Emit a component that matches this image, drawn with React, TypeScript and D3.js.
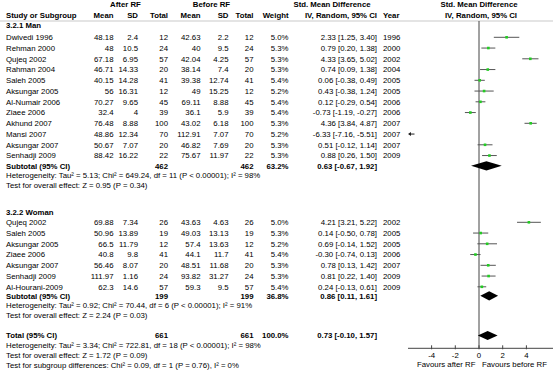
import React from "react";
import * as d3 from "d3";

// ---------- data ----------
const manStudy = ["Dwivedi 1996", "Rehman 2000", "Qujeq 2002", "Rahman 2004", "Saleh 2005", "Aksungar 2005", "Al-Numair 2006", "Ziaee 2006", "Akhund 2007", "Mansi 2007", "Aksungar 2007", "Senhadji 2009"];
const manAfterMean = [48.18, 48, 67.18, 46.71, 40.15, 56, 70.27, 32.4, 76.48, 48.86, 50.67, 88.42];
const manAfterSD = [2.4, 10.5, 6.95, 14.33, 14.28, 16.31, 9.65, 4, 8.88, 12.34, 7.07, 16.22];
const manAfterN = [12, 24, 57, 20, 41, 12, 45, 39, 100, 70, 20, 22];
const manBeforeMean = [42.63, 40, 42.04, 38.14, 39.38, 49, 69.11, 36.1, 43.02, 112.91, 46.82, 75.67];
const manBeforeSD = [2.2, 9.5, 4.25, 7.4, 12.74, 15.25, 8.88, 5.9, 6.18, 7.07, 7.69, 11.97];
const manBeforeN = [12, 24, 57, 20, 41, 12, 45, 39, 100, 70, 20, 22];
const manWeight = [5.0, 5.3, 5.3, 5.3, 5.4, 5.2, 5.4, 5.4, 5.3, 5.2, 5.3, 5.3];
const manSMD = [2.33, 0.79, 4.33, 0.74, 0.06, 0.43, 0.12, -0.73, 4.36, -6.33, 0.51, 0.88];
const manLo = [1.25, 0.2, 3.65, 0.09, -0.38, -0.38, -0.29, -1.19, 3.84, -7.16, -0.12, 0.26];
const manHi = [3.4, 1.38, 5.02, 1.38, 0.49, 1.24, 0.54, -0.27, 4.87, -5.51, 1.14, 1.5];
const manYear = [1996, 2000, 2002, 2004, 2005, 2005, 2006, 2006, 2007, 2007, 2007, 2009];

const womanStudy = ["Qujeq 2002", "Saleh 2005", "Aksungar 2005", "Ziaee 2006", "Aksungar 2007", "Senhadji 2009", "Al-Hourani-2009"];
const womanAfterMean = [69.88, 50.96, 66.5, 40.8, 56.46, 111.97, 62.3];
const womanAfterSD = [7.34, 13.89, 11.79, 9.8, 8.07, 1.16, 14.6];
const womanAfterN = [26, 19, 12, 41, 20, 24, 57];
const womanBeforeMean = [43.63, 49.03, 57.4, 44.1, 48.51, 93.82, 59.3];
const womanBeforeSD = [4.63, 13.13, 13.63, 11.7, 11.68, 31.27, 9.5];
const womanBeforeN = [26, 19, 12, 41, 20, 24, 57];
const womanWeight = [5.0, 5.3, 5.2, 5.4, 5.3, 5.3, 5.4];
const womanSMD = [4.21, 0.14, 0.69, -0.3, 0.78, 0.81, 0.24];
const womanLo = [3.21, -0.5, -0.14, -0.74, 0.13, 0.22, -0.13];
const womanHi = [5.22, 0.78, 1.52, 0.13, 1.42, 1.4, 0.61];
const womanYear = [2002, 2005, 2005, 2006, 2007, 2009, 2009];

const groupNames = ["3.2.1 Man", "3.2.2 Woman"];
const subtotalAfterN = [462, 199];
const subtotalBeforeN = [462, 199];
const subtotalWeight = [63.2, 36.8];
const subtotalEst = [0.63, 0.86];
const subtotalLo = [-0.67, 0.11];
const subtotalHi = [1.92, 1.61];
const subtotalHet = [
  "Heterogeneity: Tau\u00b2 = 5.13; Chi\u00b2 = 649.24, df = 11 (P < 0.00001); I\u00b2 = 98%",
  "Heterogeneity: Tau\u00b2 = 0.92; Chi\u00b2 = 70.44, df = 6 (P < 0.00001); I\u00b2 = 91%",
];
const subtotalTest = ["Test for overall effect: Z = 0.95 (P = 0.34)", "Test for overall effect: Z = 2.24 (P = 0.03)"];

const totalAfterN = 661;
const totalBeforeN = 661;
const totalWeight = 100.0;
const totalEst = 0.73;
const totalLo = -0.1;
const totalHi = 1.57;
const totalNotes = [
  "Heterogeneity: Tau\u00b2 = 3.34; Chi\u00b2 = 722.81, df = 18 (P < 0.00001); I\u00b2 = 98%",
  "Test for overall effect: Z = 1.72 (P = 0.09)",
  "Test for subgroup differences: Chi\u00b2 = 0.09, df = 1 (P = 0.76), I\u00b2 = 0%",
];

const axisTicks = [-4, -2, 0, 2, 4];
const axisDomain = [-5.5, 5.5];
const favoursLeft = "Favours after RF";
const favoursRight = "Favours before RF";

// ---------- layout ----------
const W = 553;
const H = 378;
const FONT = "'Liberation Sans', Arial, sans-serif";
const FS = 7.8;

const col = {
  name: 6,
  aMean: 113.5,
  aSD: 138,
  aN: 168,
  bMean: 200.5,
  bSD: 228.5,
  bN: 253.5,
  weight: 288.5,
  ci: 377,
  year: 383,
};

const fmtCI = (e: number, l: number, h: number) => `${e.toFixed(2)} [${l.toFixed(2)}, ${h.toFixed(2)}]`;

export default function App() {
  const x = d3.scaleLinear().domain(axisDomain).range([479 - 5.5 * 11.85, 479 + 5.5 * 11.85]);
  const rowStep = 10.75;
  const manY = manStudy.map((_, i) => 37.3 + i * rowStep);
  const womanY = womanStudy.map((_, i) => 222.3 + i * rowStep);
  const groupHeaderY = [25.5, 212];
  const subY = [165.8, 295.8];
  const hetY = [175.5, 305.2];
  const testY = [185.5, 315.2];
  const totalY = 335.5;
  const totalNoteY = [345.3, 355.2, 365.2];
  const axisY = 348.3;
  const topLine = 21;
  const axisLeft = 408;

  const groups = [
    { study: manStudy, am: manAfterMean, asd: manAfterSD, an: manAfterN, bm: manBeforeMean, bsd: manBeforeSD, bn: manBeforeN, w: manWeight, e: manSMD, lo: manLo, hi: manHi, yr: manYear, ys: manY },
    { study: womanStudy, am: womanAfterMean, asd: womanAfterSD, an: womanAfterN, bm: womanBeforeMean, bsd: womanBeforeSD, bn: womanBeforeN, w: womanWeight, e: womanSMD, lo: womanLo, hi: womanHi, yr: womanYear, ys: womanY },
  ];

  const T = (props: any) => (
    <text fontFamily={FONT} fontSize={FS} dy="0.35em" fill="#000" {...props} />
  );

  const diamond = (e: number, l: number, h: number, y: number) => {
    const hh = 4.6;
    const pts = [[x(l), y], [x(e), y - hh], [x(h), y], [x(e), y + hh]];
    return <polygon points={pts.map((p) => p.join(",")).join(" ")} fill="#000" />;
  };

  return (
    <svg width={W} height={H} style={{ position: "absolute", left: 0, top: 0, background: "#fff" }}>
      <rect x={0} y={0} width={W} height={H} fill="#fff" />
      {/* headers */}
      <T x={125.5} y={4.5} textAnchor="middle" fontWeight="bold">After RF</T>
      <T x={211.5} y={4.5} textAnchor="middle" fontWeight="bold">Before RF</T>
      <T x={332} y={4.5} textAnchor="middle" fontWeight="bold">Std. Mean Difference</T>
      <T x={479} y={4.5} textAnchor="middle" fontWeight="bold">Std. Mean Difference</T>
      <T x={col.name} y={15.5} fontWeight="bold">Study or Subgroup</T>
      <T x={col.aMean} y={15.5} textAnchor="end" fontWeight="bold">Mean</T>
      <T x={col.aSD} y={15.5} textAnchor="end" fontWeight="bold">SD</T>
      <T x={col.aN} y={15.5} textAnchor="end" fontWeight="bold">Total</T>
      <T x={col.bMean} y={15.5} textAnchor="end" fontWeight="bold">Mean</T>
      <T x={col.bSD} y={15.5} textAnchor="end" fontWeight="bold">SD</T>
      <T x={col.bN} y={15.5} textAnchor="end" fontWeight="bold">Total</T>
      <T x={col.weight} y={15.5} textAnchor="end" fontWeight="bold">Weight</T>
      <T x={col.ci} y={15.5} textAnchor="end" fontWeight="bold">IV, Random, 95% CI</T>
      <T x={col.year} y={15.5} fontWeight="bold">Year</T>
      <T x={481} y={15.5} textAnchor="middle" fontWeight="bold">IV, Random, 95% CI</T>
      <line x1={0} x2={W} y1={topLine} y2={topLine} stroke="#bbb" strokeWidth={0.8} />

      {/* zero line */}
      <line x1={x(0)} x2={x(0)} y1={topLine} y2={axisY} stroke="#444" strokeWidth={1} />

      {groups.map((g, gi) => (
        <g key={gi}>
          <T x={col.name} y={groupHeaderY[gi]} fontWeight="bold">{groupNames[gi]}</T>
          {g.study.map((s, i) => {
            const y = g.ys[i];
            const outside = g.hi[i] < axisDomain[0];
            return (
              <g key={s + i}>
                <T x={col.name} y={y}>{s}</T>
                <T x={col.aMean} y={y} textAnchor="end">{String(g.am[i])}</T>
                <T x={col.aSD} y={y} textAnchor="end">{String(g.asd[i])}</T>
                <T x={col.aN} y={y} textAnchor="end">{String(g.an[i])}</T>
                <T x={col.bMean} y={y} textAnchor="end">{String(g.bm[i])}</T>
                <T x={col.bSD} y={y} textAnchor="end">{String(g.bsd[i])}</T>
                <T x={col.bN} y={y} textAnchor="end">{String(g.bn[i])}</T>
                <T x={col.weight} y={y} textAnchor="end">{g.w[i].toFixed(1) + "%"}</T>
                <T x={col.ci} y={y} textAnchor="end">{fmtCI(g.e[i], g.lo[i], g.hi[i])}</T>
                <T x={col.year} y={y}>{String(g.yr[i])}</T>
                {outside ? (
                  <g>
                    <line x1={axisLeft + 1} x2={axisLeft + 6.5} y1={y} y2={y} stroke="#222" strokeWidth={1} />
                    <polygon points={`${axisLeft},${y} ${axisLeft + 3},${y - 2} ${axisLeft + 3},${y + 2}`} fill="#222" />
                  </g>
                ) : (
                  <g>
                    <line x1={x(Math.max(g.lo[i], axisDomain[0]))} x2={x(Math.min(g.hi[i], axisDomain[1]))} y1={y} y2={y} stroke="#555" strokeWidth={1} />
                    <rect x={x(g.e[i]) - 1.3} y={y - 1.3} width={2.6} height={2.6} fill="#22cc22" />
                  </g>
                )}
              </g>
            );
          })}
          <T x={col.name} y={subY[gi]} fontWeight="bold">Subtotal (95% CI)</T>
          <T x={col.aN} y={subY[gi]} textAnchor="end" fontWeight="bold">{String(subtotalAfterN[gi])}</T>
          <T x={col.bN} y={subY[gi]} textAnchor="end" fontWeight="bold">{String(subtotalBeforeN[gi])}</T>
          <T x={col.weight} y={subY[gi]} textAnchor="end" fontWeight="bold">{subtotalWeight[gi].toFixed(1) + "%"}</T>
          <T x={col.ci} y={subY[gi]} textAnchor="end" fontWeight="bold">{fmtCI(subtotalEst[gi], subtotalLo[gi], subtotalHi[gi])}</T>
          {diamond(subtotalEst[gi], subtotalLo[gi], subtotalHi[gi], subY[gi])}
          <T x={col.name} y={hetY[gi]}>{subtotalHet[gi]}</T>
          <T x={col.name} y={testY[gi]}>{subtotalTest[gi]}</T>
        </g>
      ))}

      {/* total */}
      <T x={col.name} y={totalY} fontWeight="bold">Total (95% CI)</T>
      <T x={col.aN} y={totalY} textAnchor="end" fontWeight="bold">{String(totalAfterN)}</T>
      <T x={col.bN} y={totalY} textAnchor="end" fontWeight="bold">{String(totalBeforeN)}</T>
      <T x={col.weight} y={totalY} textAnchor="end" fontWeight="bold">{totalWeight.toFixed(1) + "%"}</T>
      <T x={col.ci} y={totalY} textAnchor="end" fontWeight="bold">{fmtCI(totalEst, totalLo, totalHi)}</T>
      {diamond(totalEst, totalLo, totalHi, totalY)}
      {totalNotes.map((t, i) => (
        <T key={i} x={col.name} y={totalNoteY[i]}>{t}</T>
      ))}

      {/* axis */}
      <line x1={axisLeft} x2={W} y1={axisY} y2={axisY} stroke="#444" strokeWidth={1} />
      {axisTicks.map((t) => (
        <g key={t}>
          <line x1={x(t)} x2={x(t)} y1={axisY - 3} y2={axisY + 1} stroke="#444" strokeWidth={1} />
          <T x={x(t)} y={355.5} textAnchor="middle">{String(t)}</T>
        </g>
      ))}
      <T x={x(0) - 3.5} y={363.8} textAnchor="end">{favoursLeft}</T>
      <T x={x(0) + 3} y={363.8}>{favoursRight}</T>
    </svg>
  );
}
